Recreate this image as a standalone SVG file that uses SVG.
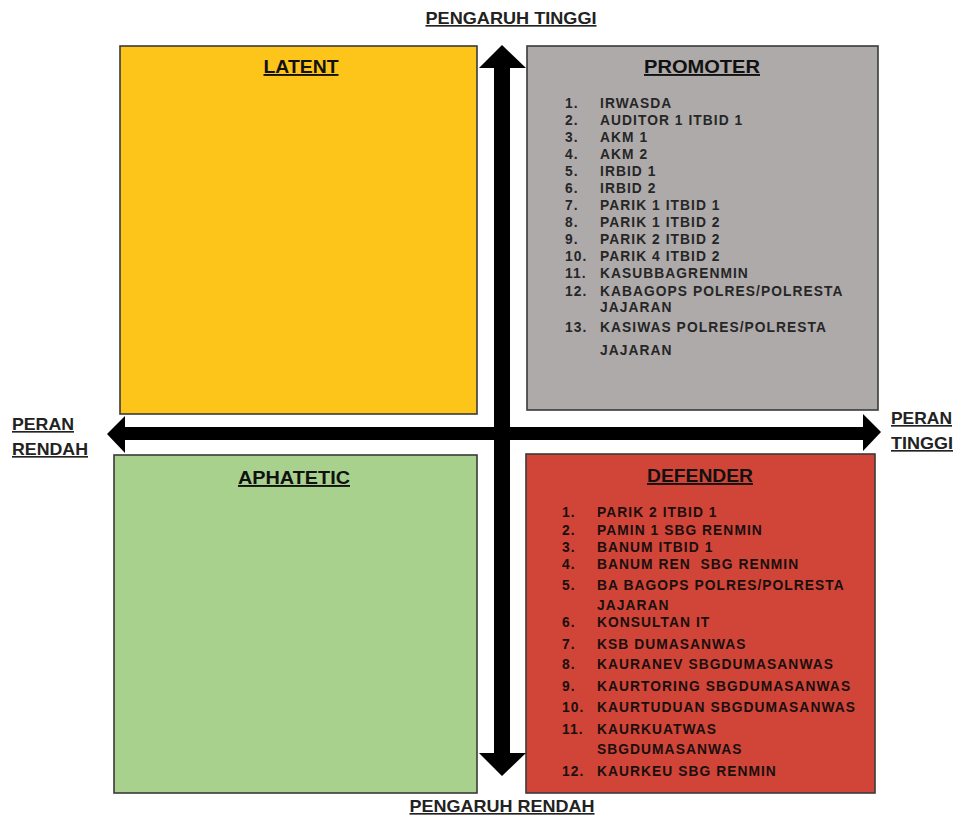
<svg xmlns="http://www.w3.org/2000/svg" width="961" height="816" viewBox="0 0 961 816">
<style>
.box{stroke:#3a3a3a;stroke-width:1.6}
.title{font-family:"Liberation Sans",Arial,sans-serif;font-weight:bold;font-size:19px;fill:#111;text-anchor:middle;text-decoration:underline}
.axis{font-family:"Liberation Sans",Arial,sans-serif;font-weight:bold;font-size:16.5px;fill:#222;text-decoration:underline}
.item{font-family:"Liberation Sans",Arial,sans-serif;font-weight:bold;font-size:13.8px;letter-spacing:1.05px}
.gray{fill:#262626}
.dark{fill:#1a0f0f}
</style>
<rect width="961" height="816" fill="#fff"/>
<g id="latent">
<rect class="box" x="120" y="46" width="357" height="368" fill="#FDC51A"/>
<text class="title" x="301" y="73" textLength="75" lengthAdjust="spacingAndGlyphs">LATENT</text>
</g>
<g id="promoter">
<rect class="box" x="527" y="46" width="351" height="364" fill="#AEAAAA"/>
<text class="title" x="702" y="73" textLength="116" lengthAdjust="spacingAndGlyphs">PROMOTER</text>
<g class="item gray">
<text x="565" y="108">1.</text><text x="600" y="108">IRWASDA</text>
<text x="565" y="125">2.</text><text x="600" y="125">AUDITOR 1 ITBID 1</text>
<text x="565" y="142">3.</text><text x="600" y="142">AKM 1</text>
<text x="565" y="159">4.</text><text x="600" y="159">AKM 2</text>
<text x="565" y="176">5.</text><text x="600" y="176">IRBID 1</text>
<text x="565" y="193">6.</text><text x="600" y="193">IRBID 2</text>
<text x="565" y="210">7.</text><text x="600" y="210">PARIK 1 ITBID 1</text>
<text x="565" y="227">8.</text><text x="600" y="227">PARIK 1 ITBID 2</text>
<text x="565" y="244">9.</text><text x="600" y="244">PARIK 2 ITBID 2</text>
<text x="565" y="261">10.</text><text x="600" y="261">PARIK 4 ITBID 2</text>
<text x="565" y="278">11.</text><text x="600" y="278">KASUBBAGRENMIN</text>
<text x="565" y="296">12.</text><text x="600" y="296">KABAGOPS POLRES/POLRESTA</text>
<text x="600" y="312">JAJARAN</text>
<text x="565" y="332">13.</text><text x="600" y="332">KASIWAS POLRES/POLRESTA</text>
<text x="600" y="355">JAJARAN</text>
</g>
</g>
<g id="aphatetic">
<rect class="box" x="114" y="455" width="363" height="338" fill="#A9D18E"/>
<text class="title" x="294" y="484" textLength="112" lengthAdjust="spacingAndGlyphs">APHATETIC</text>
</g>
<g id="defender">
<rect class="box" x="526" y="454" width="349" height="339" fill="#D04537"/>
<text class="title" x="700" y="482" textLength="106" lengthAdjust="spacingAndGlyphs">DEFENDER</text>
<g class="item dark">
<text x="562" y="517">1.</text><text x="597" y="517">PARIK 2 ITBID 1</text>
<text x="562" y="535">2.</text><text x="597" y="535">PAMIN 1 SBG RENMIN</text>
<text x="562" y="552">3.</text><text x="597" y="552">BANUM ITBID 1</text>
<text x="562" y="569">4.</text><text x="597" y="569" xml:space="preserve">BANUM REN  SBG RENMIN</text>
<text x="562" y="590">5.</text><text x="597" y="590">BA BAGOPS POLRES/POLRESTA</text>
<text x="597" y="610">JAJARAN</text>
<text x="562" y="627">6.</text><text x="597" y="627">KONSULTAN IT</text>
<text x="562" y="649">7.</text><text x="597" y="649">KSB DUMASANWAS</text>
<text x="562" y="669">8.</text><text x="597" y="669">KAURANEV SBGDUMASANWAS</text>
<text x="562" y="691">9.</text><text x="597" y="691">KAURTORING SBGDUMASANWAS</text>
<text x="562" y="712">10.</text><text x="597" y="712">KAURTUDUAN SBGDUMASANWAS</text>
<text x="562" y="734">11.</text><text x="597" y="734">KAURKUATWAS</text>
<text x="597" y="754">SBGDUMASANWAS</text>
<text x="562" y="776">12.</text><text x="597" y="776">KAURKEU SBG RENMIN</text>
</g>
</g>
<g id="connectors">
<polygon fill="#000" points="502,45 526,68 510,68 510,753 526,753 502,776 479,753 494,753 494,68 479,68"/>
<polygon fill="#000" points="107,434 125,416 125,427 863,427 863,414 881,432 863,451 863,440 125,440 125,453"/>
</g>
<g id="labels">
<text class="axis" x="511" y="24" text-anchor="middle" textLength="171" lengthAdjust="spacingAndGlyphs">PENGARUH TINGGI</text>
<text class="axis" x="502" y="812" text-anchor="middle" textLength="185" lengthAdjust="spacingAndGlyphs">PENGARUH RENDAH</text>
<text class="axis" x="12" y="430" textLength="62" lengthAdjust="spacingAndGlyphs">PERAN</text>
<text class="axis" x="12" y="455" textLength="76" lengthAdjust="spacingAndGlyphs">RENDAH</text>
<text class="axis" x="891" y="424" textLength="61" lengthAdjust="spacingAndGlyphs">PERAN</text>
<text class="axis" x="891" y="449" textLength="62" lengthAdjust="spacingAndGlyphs">TINGGI</text>
</g>
</svg>
